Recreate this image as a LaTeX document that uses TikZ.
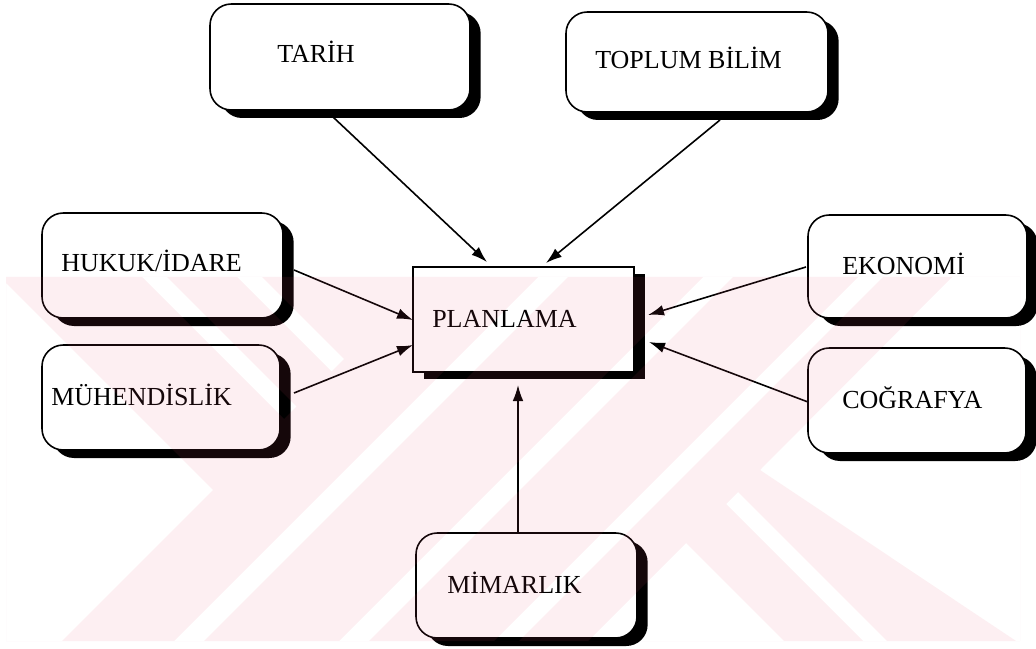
\documentclass[tikz,border=0pt]{standalone}
\usepackage{fontspec}
\setmainfont{Liberation Serif}
\usetikzlibrary{arrows.meta,shadows}
\definecolor{wmpink}{RGB}{238,80,113}
\begin{document}
\begin{tikzpicture}[x=0.75pt,y=-0.75pt,
  sz/.style 2 args={minimum width={#1*0.75pt}, minimum height={#2*0.75pt}},
  panel/.style={draw=black, line width=1.2pt, fill=white, rounded corners=16pt, inner sep=0pt,
     drop shadow={shadow xshift=8pt, shadow yshift=-6pt, fill=black, opacity=1}},
  hub/.style={draw=black, line width=1.2pt, fill=white, inner sep=0pt,
     drop shadow={shadow xshift=8.5pt, shadow yshift=-5.5pt, fill=black, opacity=1}},
  lbl/.style={anchor=base west, inner sep=0pt, font=\fontsize{19.5}{23}\selectfont},
  conn/.style={line width=1.2pt, -{Latex[length=12pt,width=8pt]}},
  wmark/.style={fill=wmpink, fill opacity=0.09, even odd rule}]

\useasboundingbox (0,0) rectangle (1036,649);
\fill[white] (0,0) rectangle (1036,649);

% boxes
\node[panel, sz={260}{106}] (tarih)  at (340,57)    {};
\node[panel, sz={262}{100}] (toplum) at (697,62)    {};
\node[panel, sz={241}{105}] (hukuk)  at (162.5,265.5) {};
\node[panel, sz={238}{105}] (muh)    at (161,397.5) {};
\node[panel, sz={219}{103}] (eko)    at (917.5,266.5) {};
\node[panel, sz={218}{105}] (cog)    at (917,400.5) {};
\node[hub,   sz={221}{105}] (plan)   at (523.5,319.5) {};
\node[panel, sz={221}{105}] (mim)    at (526.5,585.5) {};

% labels
\node[lbl] (tarihT)  at (277,63)  {TARİH};
\node[lbl] (toplumT) at (595,69)  {TOPLUM BİLİM};
\node[lbl] (hukukT)  at (61,272)  {HUKUK/İDARE};
\node[lbl] (muhT)    at (51,405)  {MÜHENDİSLİK};
\node[lbl] (ekoT)    at (842,275) {EKONOMİ};
\node[lbl] (cogT)    at (842,408) {COĞRAFYA};
\node[lbl] (planT)   at (432,327) {PLANLAMA};
\node[lbl] (mimT)    at (447,593) {MİMARLIK};

% connector end points
\coordinate (tarihOut)  at (333,117);
\coordinate (toplumOut) at (720,120);
\coordinate (hukukOut)  at (294,270);
\coordinate (muhOut)    at (294,393);
\coordinate (ekoOut)    at (806,267);
\coordinate (cogOut)    at (808,402);
\coordinate (mimOut)    at (518,533);
\coordinate (inTarih)   at (487,262);
\coordinate (inToplum)  at (546,263);
\coordinate (inHukuk)   at (413,320);
\coordinate (inMuh)     at (413,345);
\coordinate (inEko)     at (648,315);
\coordinate (inCog)     at (649,342);
\coordinate (inMim)     at (518,385);

\draw[conn] (tarihOut)  -- (inTarih);
\draw[conn] (toplumOut) -- (inToplum);
\draw[conn] (hukukOut)  -- (inHukuk);
\draw[conn] (muhOut)    -- (inMuh);
\draw[conn] (ekoOut)    -- (inEko);
\draw[conn] (cogOut)    -- (inCog);
\draw[conn] (mimOut)    -- (inMim);

% faint striped emblem over the lower part
\fill[wmark]
  (6,277) rectangle (1020,641)
  (6,283) -- (213,490) -- (62,641) -- (6,641) -- cycle
  (686,543) -- (784,641) -- (588,641) -- cycle
  (952,277) -- (1020,277) -- (1020,641) -- (1016,641) -- (760,470) -- cycle
  (538,277) -- (568,277) -- (204,641) -- (174,641) -- cycle
  (703,277) -- (733,277) -- (369,641) -- (339,641) -- cycle
  (858,277) -- (883,277) -- (519,641) -- (494,641) -- cycle
  (142,277) -- (167,277) -- (296.5,406.5) -- (284,419) -- cycle
  (237,277) -- (262,277) -- (344,359) -- (331.5,371.5) -- cycle
  (726,504) -- (738,492) -- (887,641) -- (863,641) -- cycle;
\end{tikzpicture}
\end{document}
